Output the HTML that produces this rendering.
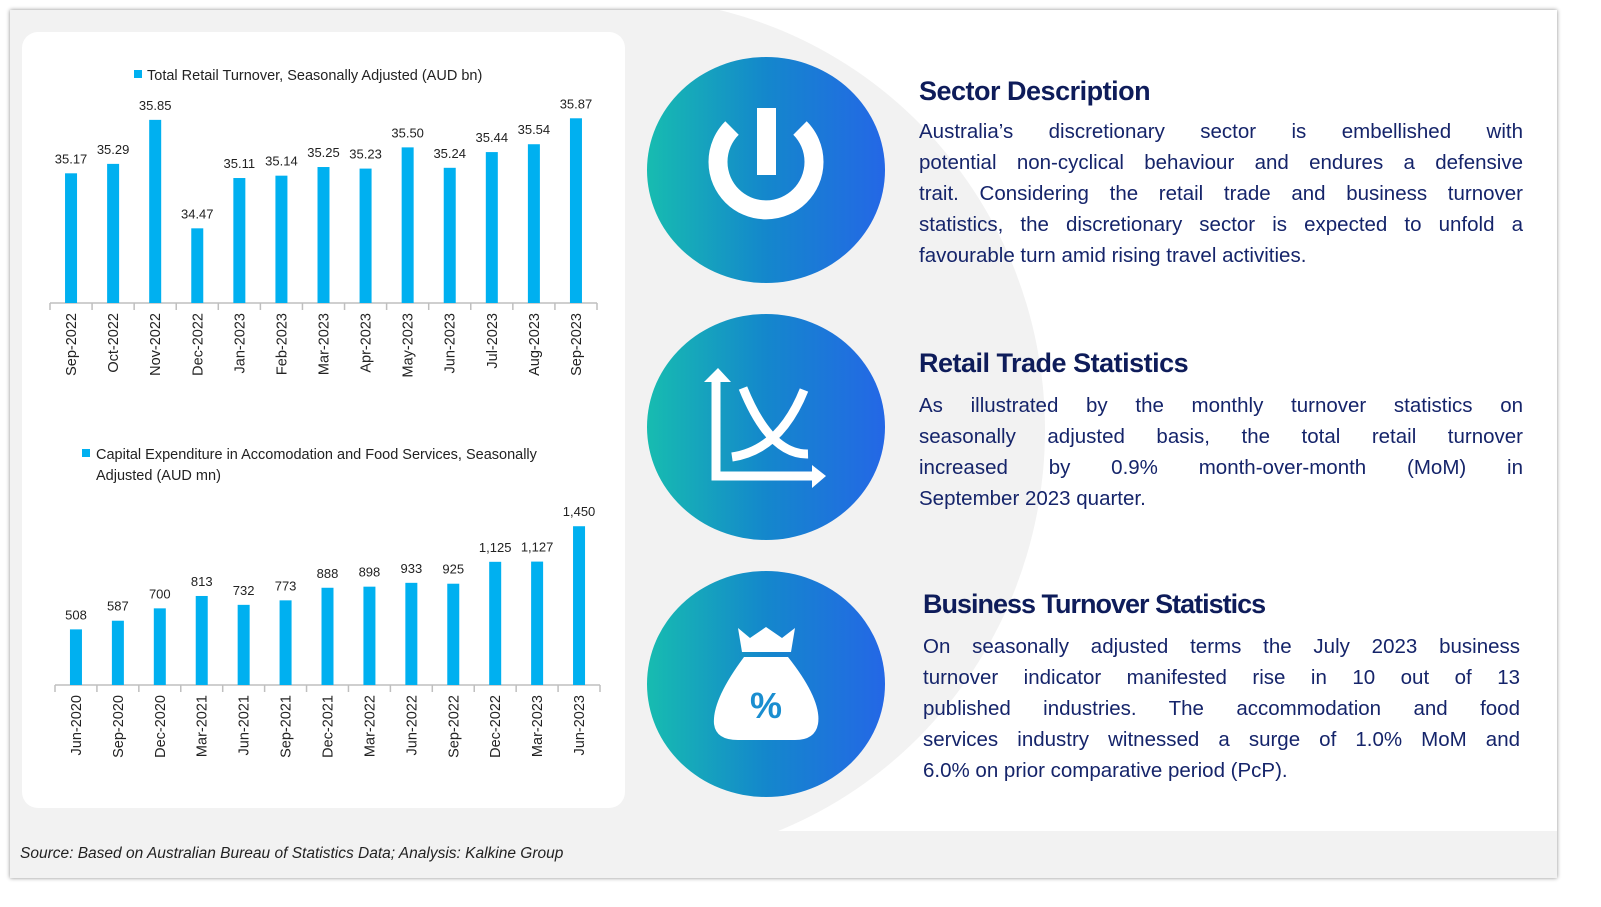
<!DOCTYPE html>
<html><head><meta charset="utf-8">
<style>
body{margin:0;width:1601px;height:907px;background:#fff;position:relative;overflow:hidden;font-family:"Liberation Sans",sans-serif}
.abs{position:absolute}
.h{position:absolute;font-weight:bold;color:#0e1c5a;font-size:27px;letter-spacing:-0.5px}
.body{position:absolute;color:#15246a;font-size:20.5px;line-height:31px}
.body div{text-align:justify;text-align-last:justify;white-space:nowrap}
.body div.last{text-align-last:left}
</style></head><body>
<div class="abs" style="left:10px;top:10px;width:1547px;height:868px;background:#f2f2f2;box-shadow:0 0 4px rgba(0,0,0,0.45);overflow:hidden">
 <div class="abs" style="left:690px;top:0;width:857px;height:821px;background:#fff"></div>
 <div class="abs" style="left:185px;top:-12px;width:850px;height:864px;border-radius:50%;background:#f2f2f2"></div>
 <div class="abs" style="left:12px;top:22px;width:603px;height:776px;background:#fff;border-radius:16px"></div>
</div>
<svg class="abs" style="left:0;top:0" width="1601" height="907">
 <defs><linearGradient id="g" x1="0" x2="1" y1="0" y2="0"><stop offset="0" stop-color="#17bcb0"/><stop offset="0.5" stop-color="#1487cc"/><stop offset="1" stop-color="#2467e6"/></linearGradient></defs>
 <g id="c1"></g>
 <g id="c2"></g>
 <g>
  <ellipse cx="766" cy="170" rx="119" ry="113" fill="url(#g)"/>
  <path d="M732 128 A48 48 0 1 0 800 128" fill="none" stroke="#fff" stroke-width="19"/>
  <rect x="757" y="108" width="19" height="67" fill="#fff"/>
  <ellipse cx="766" cy="427" rx="119" ry="113" fill="url(#g)"/>
  <g fill="none" stroke="#fff" stroke-width="9">
   <path d="M716 382 V476 H812"/><path d="M743 388 Q770 455 808 454"/><path d="M804 390 Q780 450 732 457"/>
  </g>
  <path d="M704 382 L718 368 L731 382 Z M812 465 L826 476 L812 488 Z" fill="#fff"/>
  <ellipse cx="766" cy="684" rx="119" ry="113" fill="url(#g)"/>
  <path d="M738 628 L750 638 L766 627 L782 638 L795 628 L791 652 L742 652 Z" fill="#fff"/>
  <path d="M744 657 H788 Q822 700 818 724 Q815 740 795 740 H738 Q716 740 714 724 Q712 700 744 657 Z" fill="#fff"/>
  <text x="766" y="718" text-anchor="middle" font-size="36" font-weight="bold" fill="#1a8ed0" font-family="Liberation Sans">%</text>
 </g>
</svg>
<div class="h" style="left:919px;top:76px">Sector Description</div>
<div class="body" style="left:919px;top:116px;width:604px">
<div>Australia’s discretionary sector is embellished with</div>
<div>potential non-cyclical behaviour and endures a defensive</div>
<div>trait. Considering the retail trade and business turnover</div>
<div>statistics, the discretionary sector is expected to unfold a</div>
<div class="last">favourable turn amid rising travel activities.</div></div>
<div class="h" style="left:919px;top:348px">Retail Trade Statistics</div>
<div class="body" style="left:919px;top:390px;width:604px">
<div>As illustrated by the monthly turnover statistics on</div>
<div>seasonally adjusted basis, the total retail turnover</div>
<div>increased by 0.9% month-over-month (MoM) in</div>
<div class="last">September 2023 quarter.</div></div>
<div class="h" style="left:923px;top:589px;letter-spacing:-1px">Business Turnover Statistics</div>
<div class="body" style="left:923px;top:631px;width:597px">
<div>On seasonally adjusted terms the July 2023 business</div>
<div>turnover indicator manifested rise in 10 out of 13</div>
<div>published industries. The accommodation and food</div>
<div>services industry witnessed a surge of 1.0% MoM and</div>
<div class="last">6.0% on prior comparative period (PcP).</div></div>
<div class="abs" style="left:20px;top:845px;font-size:15.5px;font-style:italic;color:#222">Source: Based on Australian Bureau of Statistics Data; Analysis: Kalkine Group</div>
<script>
const cats1=["Sep-2022","Oct-2022","Nov-2022","Dec-2022","Jan-2023","Feb-2023","Mar-2023","Apr-2023","May-2023","Jun-2023","Jul-2023","Aug-2023","Sep-2023"];
const vals1=[35.17,35.29,35.85,34.47,35.11,35.14,35.25,35.23,35.50,35.24,35.44,35.54,35.87];
const labels1=["35.17","35.29","35.85","34.47","35.11","35.14","35.25","35.23","35.50","35.24","35.44","35.54","35.87"];
const cats2=["Jun-2020","Sep-2020","Dec-2020","Mar-2021","Jun-2021","Sep-2021","Dec-2021","Mar-2022","Jun-2022","Sep-2022","Dec-2022","Mar-2023","Jun-2023"];
const vals2=[508,587,700,813,732,773,888,898,933,925,1125,1127,1450];
const labels2=["508","587","700","813","732","773","888","898","933","925","1,125","1,127","1,450"];
const NS="http://www.w3.org/2000/svg";
function mk(p,t,a){const e=document.createElementNS(NS,t);for(const k in a)e.setAttribute(k,a[k]);p.appendChild(e);return e;}
function chart(g,cats,vals,labels,x0,x1,base,vmin,scale,name){
 const step=(x1-x0)/cats.length;
 const xs=i=>x0+step*(i+0.5);
 const ys=v=>base-(v-vmin)*scale;
 const ax=mk(g,'line',{x1:x0,x2:x1,y1:base,y2:base,stroke:'#bfbfbf','stroke-width':1.5});
 
 
 for(let i=0;i<=cats.length;i++){mk(g,'line',{x1:x0+step*i,x2:x0+step*i,y1:base,y2:base+7,stroke:'#bfbfbf','stroke-width':1.5});}
 cats.forEach((c,i)=>{
  const y=ys(vals[i]);
  const r=mk(g,'rect',{x:xs(i)-6,y:y,width:12,height:base-y,fill:'#00b0f0'});
  
  
  const t=mk(g,'text',{x:xs(i),y:y-10,'text-anchor':'middle','font-size':13,fill:'#222'});
  t.textContent=labels[i];
  
  
  const l=mk(g,'text',{x:0,y:0,'text-anchor':'end','font-size':14.5,fill:'#222',transform:`translate(${xs(i)+5},${base+10}) rotate(-90)`});
  l.textContent=c;
  
  
 });
}
const c1=document.getElementById('c1'),c2=document.getElementById('c2');
chart(c1,cats1,vals1,labels1,50,597,303,33.52,78.6,'retail');
chart(c2,cats2,vals2,labels2,55,600,685,0,0.1095,'capex');
let r=mk(c1,'rect',{x:134,y:70,width:8,height:8,fill:'#00b0f0'});


let t=mk(c1,'text',{x:147,y:80,'font-size':14.5,fill:'#222'});t.textContent='Total Retail Turnover, Seasonally Adjusted (AUD bn)';


r=mk(c2,'rect',{x:82,y:449,width:8,height:8,fill:'#00b0f0'});


t=mk(c2,'text',{x:96,y:459,'font-size':14.5,fill:'#222'});t.textContent='Capital Expenditure in Accomodation and Food Services, Seasonally';


t=mk(c2,'text',{x:96,y:480,'font-size':14.5,fill:'#222'});t.textContent='Adjusted (AUD mn)';


</script>
</body></html>
